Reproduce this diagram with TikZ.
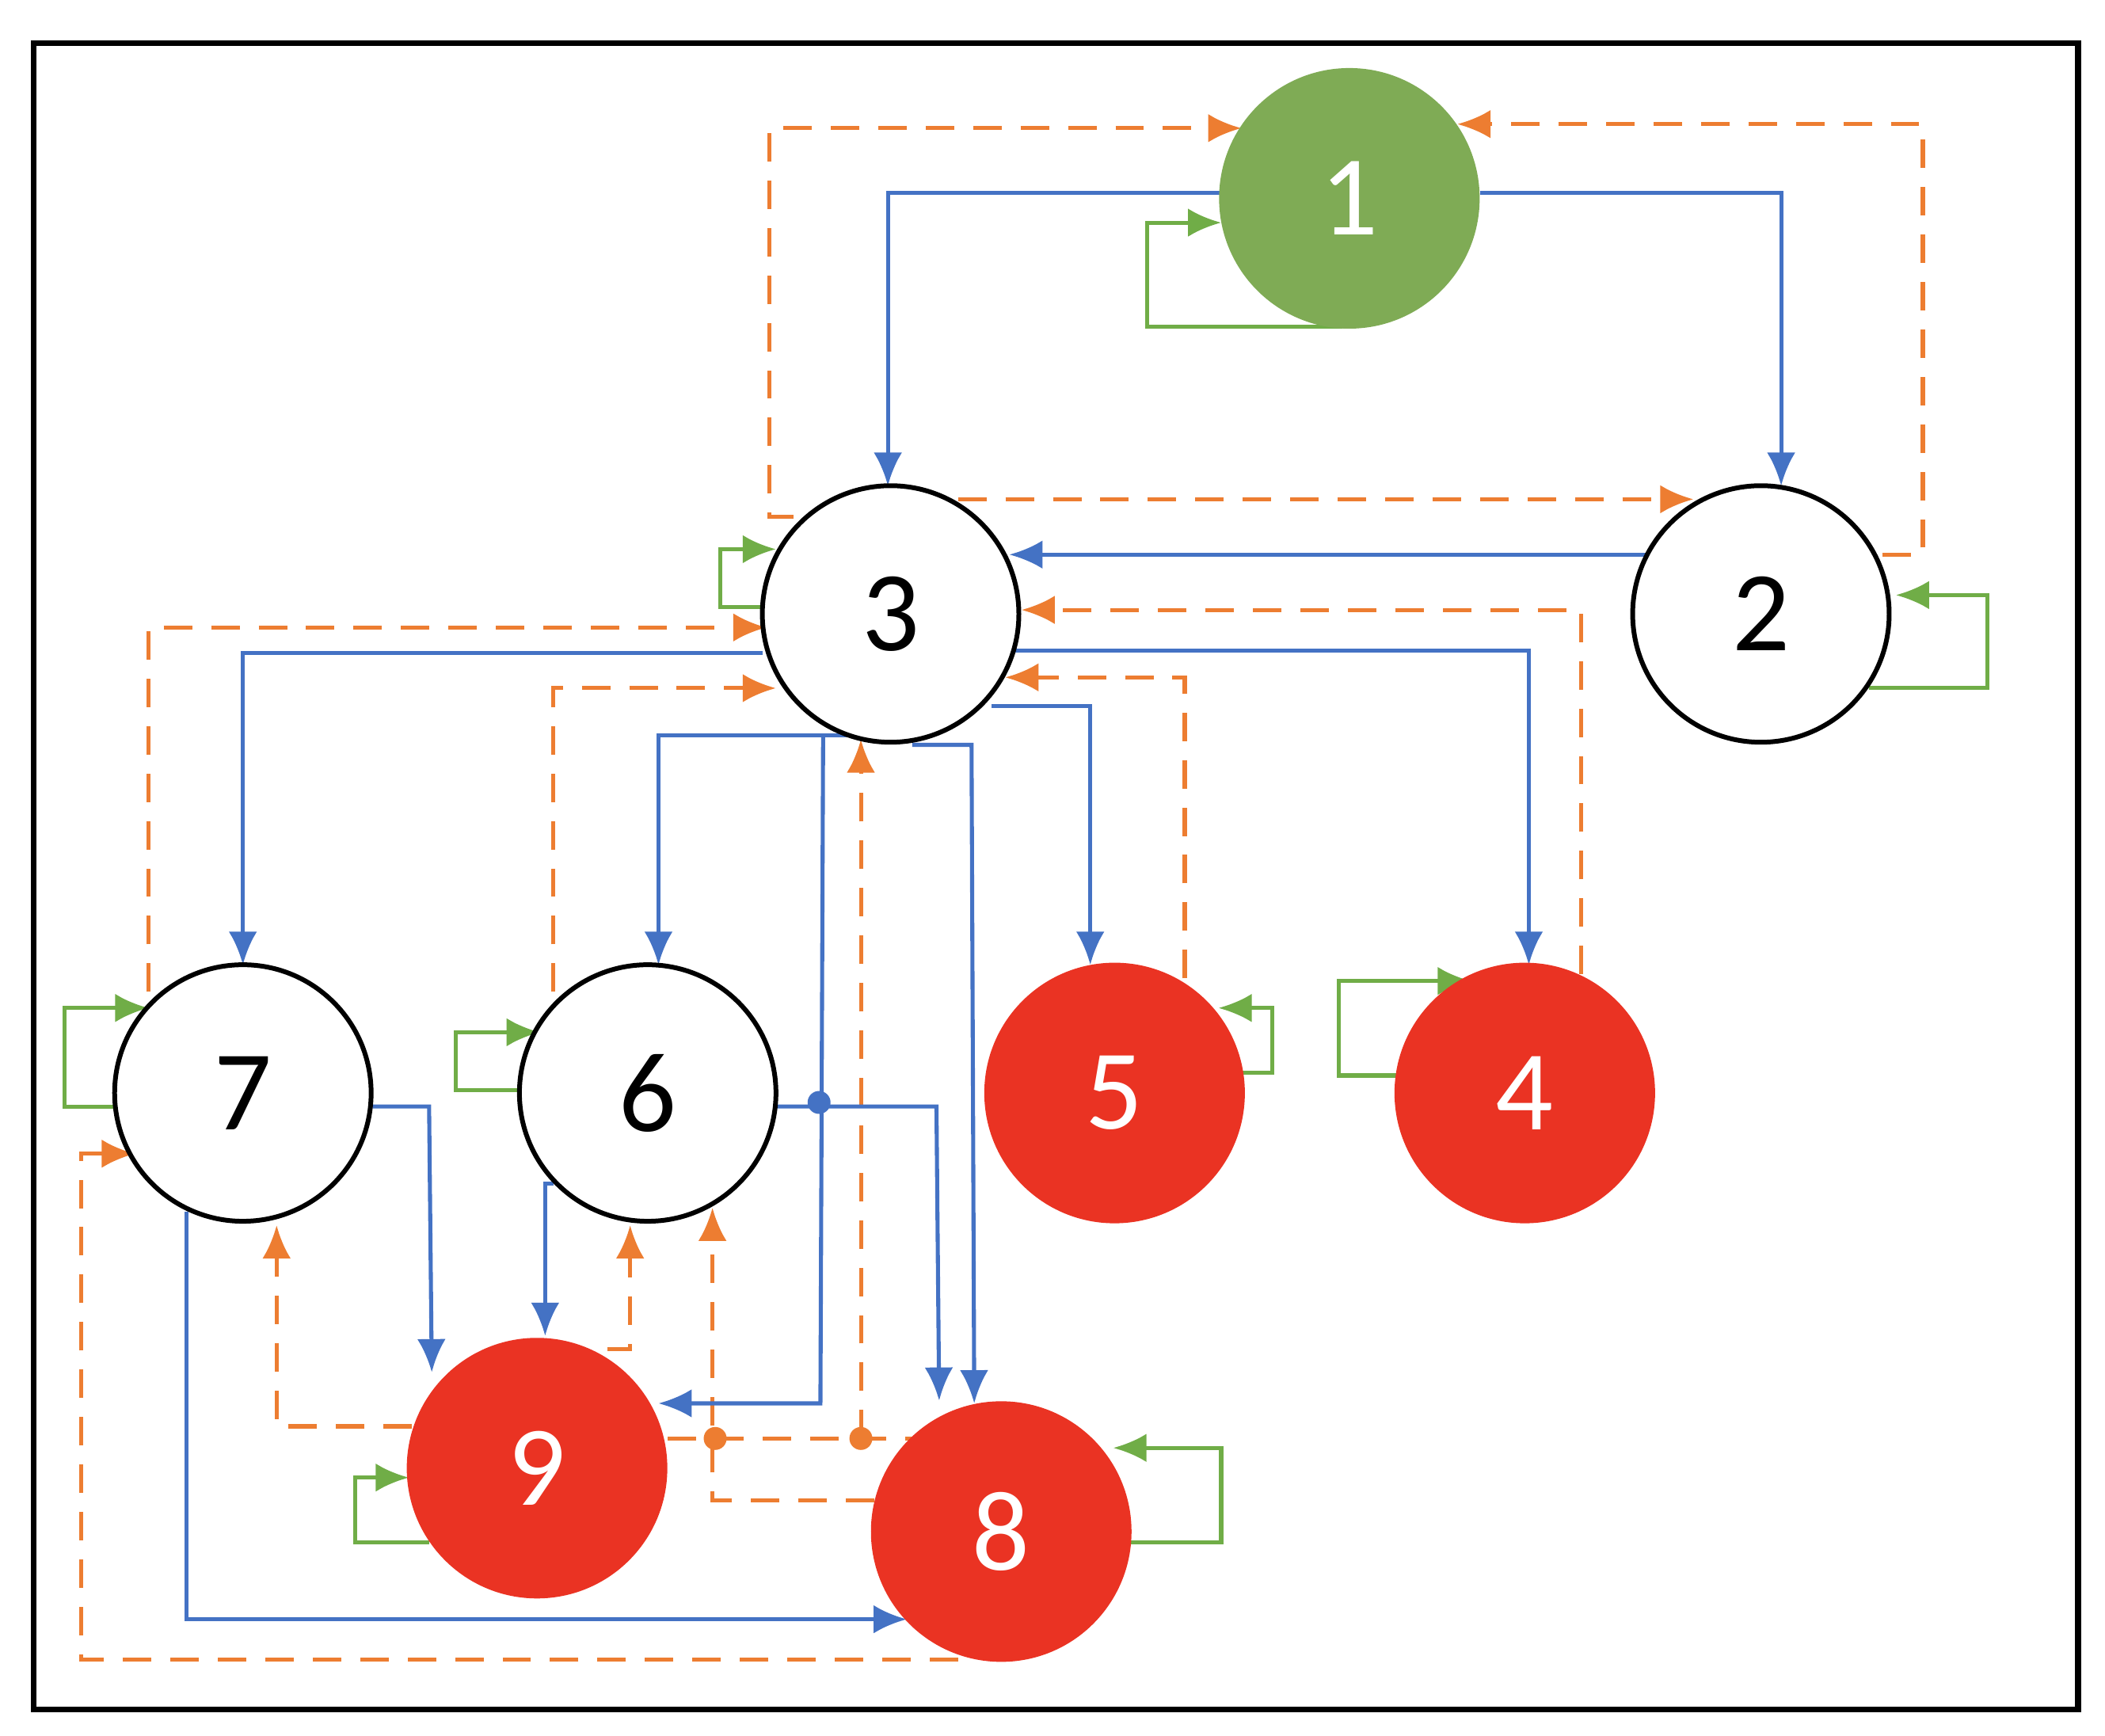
\documentclass[tikz,border=0pt]{standalone}
\usepackage{fontspec}
\setmainfont{Carlito}
\usetikzlibrary{arrows.meta}
\definecolor{cb}{HTML}{4472C4}
\definecolor{co}{HTML}{ED7D31}
\definecolor{cg}{HTML}{70AD47}
\definecolor{ng}{HTML}{7FAB55}
\definecolor{nr}{HTML}{EA3323}
\begin{document}
\begin{tikzpicture}[x=0.01cm,y=-0.01cm,
 bl/.style={draw=cb,line width=0.85pt,-{Latex[length=7pt,width=6pt]}},
 or/.style={draw=co,line width=0.85pt,dash pattern=on 6pt off 4pt,-{Latex[length=7pt,width=6pt]}},
 gr/.style={draw=cg,line width=0.85pt,-{Latex[length=7pt,width=6pt]}},
 wn/.style={circle,draw=black,line width=1pt,fill=white,minimum size=1.9cm,inner sep=0pt,font=\fontsize{24}{28}\selectfont},
 rn/.style={circle,fill=nr,text=white,minimum size=1.93cm,inner sep=0pt,font=\fontsize{24}{28}\selectfont},
 gn/.style={circle,fill=ng,text=white,minimum size=1.93cm,inner sep=0pt,font=\fontsize{24}{28}\selectfont},
 jo/.style={circle,fill=co,inner sep=0pt,minimum size=0.17cm},
 jb/.style={circle,fill=cb,inner sep=0pt,minimum size=0.17cm}]
\useasboundingbox (0,0) rectangle (1560,1286);
\draw[line width=1.2pt] (25,32) rectangle (1540,1267);
% green loops
\draw[gr] (995,242) -- (850,242) -- (850,165) -- (905,165);
\draw[gr] (570,450) -- (534,450) -- (534,407) -- (575,407);
\draw[gr] (1385,510) -- (1473,510) -- (1473,441) -- (1405,441);
\draw[gr] (90,820) -- (48,820) -- (48,747) -- (110,747);
\draw[gr] (386,808) -- (338,808) -- (338,765) -- (400,765);
\draw[gr] (920,795) -- (943,795) -- (943,747) -- (903,747);
\draw[gr] (1035,797) -- (992,797) -- (992,727) -- (1090,727);
\draw[gr] (318,1143) -- (263,1143) -- (263,1095) -- (303,1095);
\draw[gr] (838,1143) -- (905,1143) -- (905,1073) -- (825,1073);
% orange
\draw[or] (588,383) -- (570,383) -- (570,95) -- (920,95);
\draw[or] (1395,411) -- (1425,411) -- (1425,92) -- (1080,92);
\draw[or] (710,370) -- (1255,370);
\draw[or] (110,735) -- (110,465) -- (568,465);
\draw[or] (410,735) -- (410,510) -- (575,510);
\draw[or] (878,725) -- (878,502) -- (745,502);
\draw[or] (1172,722) -- (1172,452) -- (757,452);
\draw[or] (638,1066) -- (638,548);
\draw[or,-] (495,1066) -- (676,1066);
\draw[or] (648,1112) -- (528,1112) -- (528,895);
\draw[or] (305,1057) -- (205,1057) -- (205,908);
\draw[or] (450,1000) -- (467,1000) -- (467,908);
\draw[or] (710,1230) -- (60,1230) -- (60,855) -- (100,855);
\node[jo] (d1) at (530,1066) {};
\node[jo] (d2) at (638,1066) {};
% blue
\draw[bl] (905,143) -- (658,143) -- (658,360);
\draw[bl] (1097,143) -- (1320,143) -- (1320,360);
\draw[bl] (1220,411) -- (748,411);
\draw[bl] (565,484) -- (180,484) -- (180,715);
\draw[bl] (740,482) -- (1133,482) -- (1133,715);
\draw[bl] (735,523) -- (808,523) -- (808,715);
\draw[bl] (640,545) -- (488,545) -- (488,715);
\draw[bl] (676,552) -- (720,552) -- (722,1040);
\draw[bl] (610,545) -- (608,1040) -- (488,1040);
\draw[bl] (576,820) -- (694,820) -- (696,1038);
\draw[bl] (410,877) -- (404,877) -- (404,990);
\draw[bl] (276,820) -- (318,820) -- (320,1017);
\draw[bl] (138,898) -- (138,1200) -- (672,1200);
\node[jb] (d3) at (607,817) {};
% nodes
\node[gn] (n1) at (1000,147) {1};
\node[wn] (n3) at (660,455) {3};
\node[wn] (n2) at (1305,455) {2};
\node[wn] (n7) at (180,810) {7};
\node[wn] (n6) at (480,810) {6};
\node[rn] (n5) at (826,810) {5};
\node[rn] (n4) at (1130,810) {4};
\node[rn] (n9) at (398,1088) {9};
\node[rn] (n8) at (742,1135) {8};
\end{tikzpicture}
\end{document}
